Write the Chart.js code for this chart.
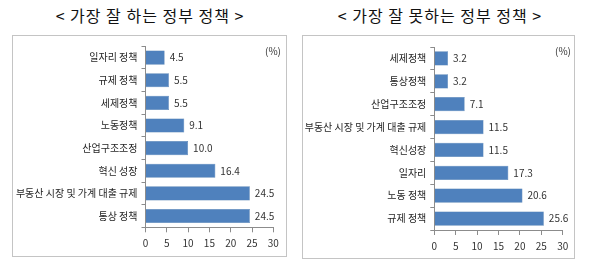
<!DOCTYPE html>
<html>
<head>
<meta charset="utf-8">
<script src="https://cdn.jsdelivr.net/npm/chart.js@4/dist/chart.umd.min.js"></script>
<style>
    body { margin: 0; width: 600px; height: 276px; background: #fff; position: relative; overflow: hidden; font-family: "Noto Sans CJK KR", sans-serif; }
    .title { position: absolute; top: 3px; font-size: 16px; letter-spacing: 1px; color: #111; white-space: nowrap; transform: translateX(-50%); }
    .panel { position: absolute; border: 1px solid #c4c4c4; box-sizing: border-box; }
    .box { position: absolute; }
    .unit { position: absolute; font-size: 10px; color: #333; }
</style>
</head>
<body>
<div class="title" style="left:150px">&lt; 가장 잘 하는 정부 정책 &gt;</div>
<div class="title" style="left:440px">&lt; 가장 잘 못하는 정부 정책 &gt;</div>

<div class="panel" style="left:12px;top:35px;width:275px;height:222px"></div>
<div class="panel" style="left:302px;top:35px;width:273px;height:224px"></div>

<div class="box" style="left:12px;top:35px;width:275px;height:222px"><canvas id="bestChart"></canvas></div>
<div class="box" style="left:302px;top:35px;width:273px;height:224px"><canvas id="worstChart"></canvas></div>

<div class="unit" style="left:265px;top:43px">(%)</div>
<div class="unit" style="left:555px;top:43px">(%)</div>

<script>
// data
const bestLabels = ['일자리 정책', '규제 정책', '세제정책', '노동정책', '산업구조조정', '혁신 성장', '부동산 시장 및 가계 대출 규제', '통상 정책'];
const bestValues = [4.5, 5.5, 5.5, 9.1, 10.0, 16.4, 24.5, 24.5];

const worstLabels = ['세제정책', '통상정책', '산업구조조정', '부동산 시장 및 가계 대출 규제', '혁신성장', '일자리', '노동 정책', '규제 정책'];
const worstValues = [3.2, 3.2, 7.1, 11.5, 11.5, 17.3, 20.6, 25.6];

const xMin = 0, xMax = 30, xStep = 5;

const barColor = '#4F81BD';
const axisColor = '#8c8c8c';
const fontFamily = '"Noto Sans CJK KR", sans-serif';

// draws the value next to each bar
const valueLabels = {
    id: 'valueLabels',
    afterDatasetsDraw(chart) {
        const ctx = chart.ctx;
        const meta = chart.getDatasetMeta(0);
        const values = chart.data.datasets[0].data;
        ctx.save();
        ctx.font = '10px ' + fontFamily;
        ctx.fillStyle = '#333';
        ctx.textBaseline = 'middle';
        ctx.textAlign = 'left';
        meta.data.forEach((bar, i) => {
            ctx.fillText(values[i].toFixed(1), bar.x + 5, bar.y);
        });
        ctx.restore();
    }
};

function makeChart(id, labels, values, box) {
    return new Chart(document.getElementById(id), {
        type: 'bar',
        data: {
            labels: labels,
            datasets: [{
                data: values,
                backgroundColor: barColor,
                borderColor: '#3f6fa6',
                borderWidth: 0.5,
                barPercentage: 0.62,
                categoryPercentage: 1
            }]
        },
        options: {
            indexAxis: 'y',
            responsive: true,
            maintainAspectRatio: false,
            animation: false,
            events: [],
            layout: { padding: { top: box.top, right: box.right, left: 0, bottom: 0 } },
            plugins: { legend: { display: false }, tooltip: { enabled: false } },
            scales: {
                x: {
                    min: xMin,
                    max: xMax,
                    ticks: { stepSize: xStep, color: '#333', font: { family: fontFamily, size: 10 }, padding: 5 },
                    grid: { drawOnChartArea: false, tickLength: 5, color: axisColor },
                    border: { color: axisColor },
                    afterFit: scale => { scale.height = box.xHeight; }
                },
                y: {
                    ticks: { color: '#262626', font: { family: fontFamily, size: 10 }, padding: 4 },
                    grid: { drawOnChartArea: false, tickLength: 4, color: axisColor, offset: true },
                    border: { color: axisColor },
                    afterFit: scale => { scale.width = box.yWidth; }
                }
            }
        },
        plugins: [valueLabels]
    });
}

makeChart('bestChart', bestLabels, bestValues, { top: 11.3, right: 13.7, xHeight: 29.7, yWidth: 133.5 });
makeChart('worstChart', worstLabels, worstValues, { top: 12, right: 12.3, xHeight: 29, yWidth: 132.3 });
</script>
</body>
</html>
